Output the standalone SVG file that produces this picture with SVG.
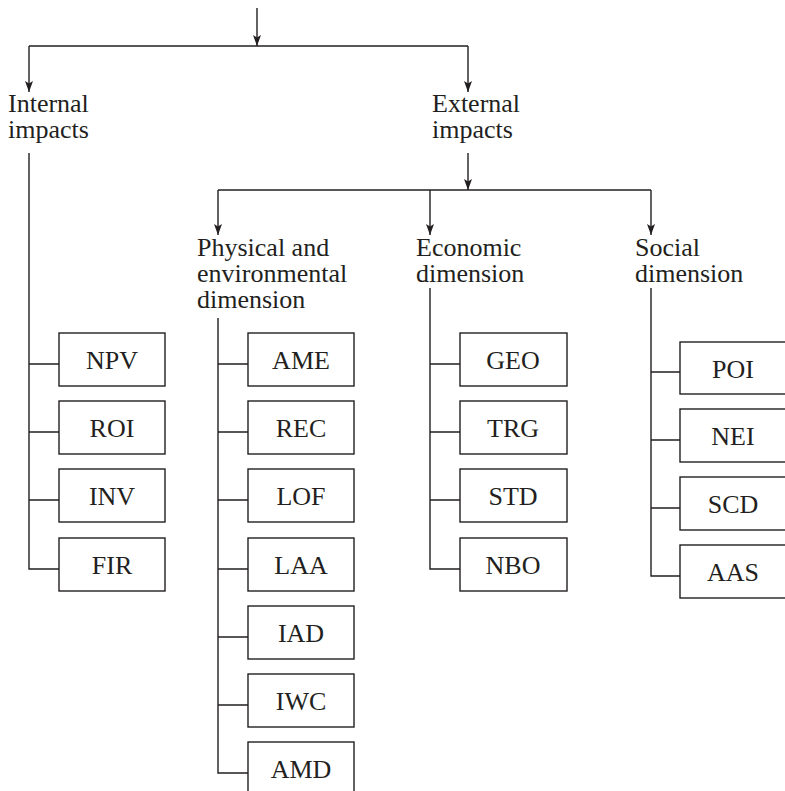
<svg xmlns="http://www.w3.org/2000/svg" width="785" height="791" viewBox="0 0 785 791">
  <style>
    .ln { stroke: #231f20; stroke-width: 1.4; fill: none; }
    .box { stroke: #231f20; stroke-width: 1.4; fill: #ffffff; }
    .lbl { font-family: "Liberation Serif", "Times New Roman", serif; font-size: 26px; fill: #231f20; }
    .code { font-family: "Liberation Serif", "Times New Roman", serif; font-size: 26px; fill: #231f20; text-anchor: middle; }
  </style>
  <defs>
    <marker id="arrow" markerUnits="userSpaceOnUse" markerWidth="12" markerHeight="10" refX="11" refY="4" orient="auto">
      <path d="M0,0 L11,4 L0,8 L2.5,4 z" fill="#231f20"/>
    </marker>
  </defs>
  <rect width="785" height="791" fill="#ffffff"/>

  <!-- connectors -->
  <g id="connectors">
    <!-- top split -->
    <line class="ln" x1="257" y1="8" x2="257" y2="46" marker-end="url(#arrow)"/>
    <line class="ln" x1="29" y1="46" x2="468" y2="46"/>
    <line class="ln" x1="29" y1="46" x2="29" y2="92" marker-end="url(#arrow)"/>
    <line class="ln" x1="468" y1="46" x2="468" y2="92" marker-end="url(#arrow)"/>

    <!-- external split -->
    <line class="ln" x1="468" y1="153" x2="468" y2="190" marker-end="url(#arrow)"/>
    <line class="ln" x1="218" y1="190" x2="651" y2="190"/>
    <line class="ln" x1="218" y1="190" x2="218" y2="235" marker-end="url(#arrow)"/>
    <line class="ln" x1="430" y1="190" x2="430" y2="235" marker-end="url(#arrow)"/>
    <line class="ln" x1="651" y1="190" x2="651" y2="235" marker-end="url(#arrow)"/>

    <!-- internal spine -->
    <path class="ln" d="M29,153 V569 H59 M29,364 H59 M29,432 H59 M29,500 H59"/>
    <!-- physical spine -->
    <path class="ln" d="M218,318 V773 H248 M218,364 H248 M218,432 H248 M218,500 H248 M218,569 H248 M218,637 H248 M218,705 H248"/>
    <!-- economic spine -->
    <path class="ln" d="M430,288 V569 H460 M430,364 H460 M430,432 H460 M430,500 H460"/>
    <!-- social spine -->
    <path class="ln" d="M651,288 V576 H680 M651,372 H680 M651,440 H680 M651,508 H680"/>
  </g>

  <!-- branch headings -->
  <g id="internal-impacts">
    <text class="lbl" x="8" y="112">Internal<tspan x="8" dy="26">impacts</tspan></text>
  </g>
  <g id="external-impacts">
    <text class="lbl" x="432" y="112">External<tspan x="432" dy="26">impacts</tspan></text>
  </g>
  <g id="physical-dimension">
    <text class="lbl" x="197" y="256">Physical and<tspan x="197" dy="26">environmental</tspan><tspan x="197" dy="26">dimension</tspan></text>
  </g>
  <g id="economic-dimension">
    <text class="lbl" x="416" y="256">Economic<tspan x="416" dy="26">dimension</tspan></text>
  </g>
  <g id="social-dimension">
    <text class="lbl" x="635" y="256">Social<tspan x="635" dy="26">dimension</tspan></text>
  </g>

  <!-- internal indicators -->
  <g id="NPV"><rect class="box" x="59" y="333" width="106" height="53"/><text class="code" x="112" y="369">NPV</text></g>
  <g id="ROI"><rect class="box" x="59" y="401" width="106" height="53"/><text class="code" x="112" y="437">ROI</text></g>
  <g id="INV"><rect class="box" x="59" y="469" width="106" height="53"/><text class="code" x="112" y="505">INV</text></g>
  <g id="FIR"><rect class="box" x="59" y="538" width="106" height="53"/><text class="code" x="112" y="574">FIR</text></g>

  <!-- physical and environmental indicators -->
  <g id="AME"><rect class="box" x="248" y="333" width="106" height="53"/><text class="code" x="301" y="369">AME</text></g>
  <g id="REC"><rect class="box" x="248" y="401" width="106" height="53"/><text class="code" x="301" y="437">REC</text></g>
  <g id="LOF"><rect class="box" x="248" y="469" width="106" height="53"/><text class="code" x="301" y="505">LOF</text></g>
  <g id="LAA"><rect class="box" x="248" y="538" width="106" height="53"/><text class="code" x="301" y="574">LAA</text></g>
  <g id="IAD"><rect class="box" x="248" y="606" width="106" height="53"/><text class="code" x="301" y="642">IAD</text></g>
  <g id="IWC"><rect class="box" x="248" y="674" width="106" height="53"/><text class="code" x="301" y="710">IWC</text></g>
  <g id="AMD"><rect class="box" x="248" y="742" width="106" height="53"/><text class="code" x="301" y="778">AMD</text></g>

  <!-- economic indicators -->
  <g id="GEO"><rect class="box" x="460" y="333" width="107" height="53"/><text class="code" x="513" y="369">GEO</text></g>
  <g id="TRG"><rect class="box" x="460" y="401" width="107" height="53"/><text class="code" x="513" y="437">TRG</text></g>
  <g id="STD"><rect class="box" x="460" y="469" width="107" height="53"/><text class="code" x="513" y="505">STD</text></g>
  <g id="NBO"><rect class="box" x="460" y="538" width="107" height="53"/><text class="code" x="513" y="574">NBO</text></g>

  <!-- social indicators -->
  <g id="POI"><rect class="box" x="680" y="342" width="107" height="52"/><text class="code" x="733" y="378">POI</text></g>
  <g id="NEI"><rect class="box" x="680" y="409" width="107" height="53"/><text class="code" x="733" y="445">NEI</text></g>
  <g id="SCD"><rect class="box" x="680" y="477" width="107" height="53"/><text class="code" x="733" y="513">SCD</text></g>
  <g id="AAS"><rect class="box" x="680" y="545" width="107" height="53"/><text class="code" x="733" y="581">AAS</text></g>
</svg>
